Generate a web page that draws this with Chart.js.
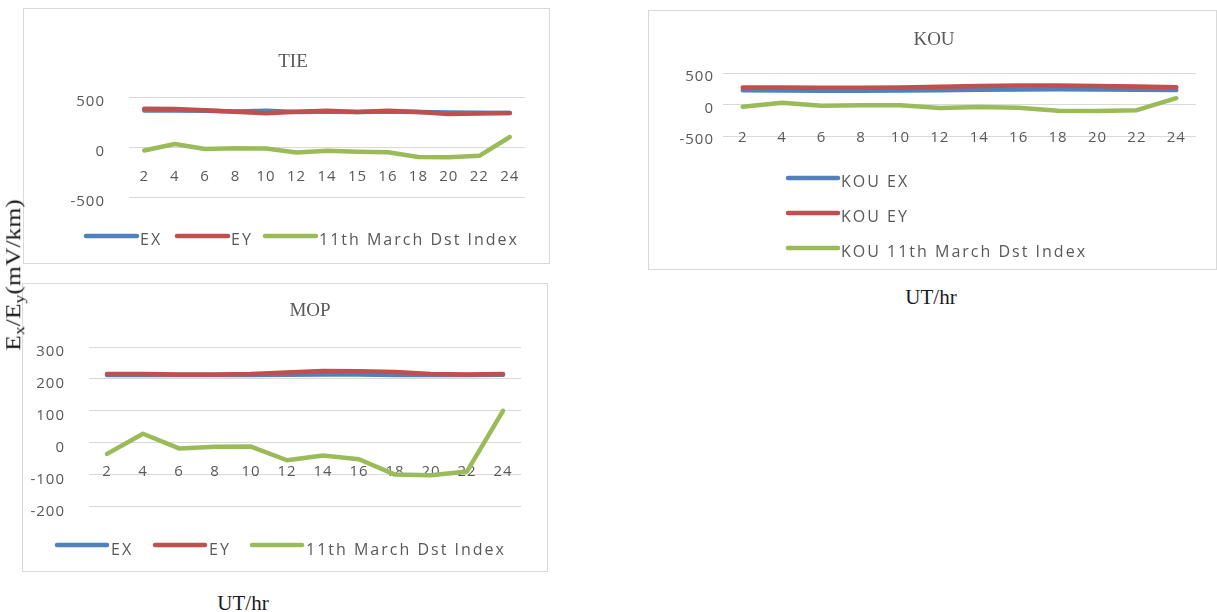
<!DOCTYPE html>
<html>
<head>
<meta charset="utf-8">
<title>Ex/Ey and Dst index, 11th March</title>
<script src="https://cdn.jsdelivr.net/npm/chart.js@4.4.1/dist/chart.umd.min.js"></script>
<style>
  html, body { margin: 0; padding: 0; background: #ffffff; }
  body { position: relative; width: 1217px; height: 612px; overflow: hidden; }
  .panel { position: absolute; box-sizing: border-box; border: 1px solid #d9d9d9; }
  .panel canvas { position: absolute; left: -1px; top: -1px; }
  .axis-title {
    position: absolute; font-family: "Liberation Serif", "Times New Roman", serif;
    color: #1a1a1a; white-space: nowrap; line-height: 1;
  }
  .axis-title sub { font-size: 0.7em; vertical-align: -0.25em; }
</style>
</head>
<body>

<div class="panel" id="panel-tie" style="left:23px; top:8px; width:527px; height:256px;">
  <canvas id="chart-tie" width="527" height="256"></canvas>
</div>
<div class="panel" id="panel-kou" style="left:648px; top:10px; width:569px; height:260px;">
  <canvas id="chart-kou" width="569" height="260"></canvas>
</div>
<div class="panel" id="panel-mop" style="left:22px; top:283px; width:526px; height:289px;">
  <canvas id="chart-mop" width="526" height="289"></canvas>
</div>

<div class="axis-title" id="y-title"
     style="left:15px; top:275px; font-size:20px; transform: translate(-50%, -50%) rotate(-90deg) scaleX(1.28);">E<sub>x</sub>/E<sub>y</sub>(mV/km)</div>
<div class="axis-title" style="left:931px; top:297px; font-size:21px; transform: translate(-50%, -50%);">UT/hr</div>
<div class="axis-title" style="left:243px; top:603px; font-size:21px; transform: translate(-50%, -50%);">UT/hr</div>

<script>
// ---- hours (UT) on the category axes ----
const tieHours = ['2', '4', '6', '8', '10', '12', '14', '15', '16', '18', '20', '22', '24'];
const hours    = ['2', '4', '6', '8', '10', '12', '14', '16', '18', '20', '22', '24'];

// ---- TIE station (mV/km) and Dst index (nT) ----
const tieEx  = [365, 365, 362, 356, 362, 350, 352, 350, 355, 350, 345, 342, 340];
const tieEy  = [382, 380, 368, 352, 338, 352, 362, 350, 362, 350, 330, 335, 340];
const tieDst = [-35, 30, -20, -12, -15, -55, -38, -47, -52, -100, -103, -88, 100];

// ---- KOU station ----
const kouEx  = [225, 222, 220, 220, 222, 228, 235, 240, 242, 240, 235, 230];
const kouEy  = [270, 268, 265, 265, 268, 280, 292, 300, 300, 295, 285, 275];
const kouDst = [-35, 28, -18, -13, -12, -55, -40, -52, -100, -102, -90, 100];

// ---- MOP station ----
const mopEx  = [212, 212, 212, 212, 212, 213, 214, 214, 212, 212, 212, 213];
const mopEy  = [215, 215, 214, 214, 215, 220, 225, 224, 222, 215, 214, 215];
const mopDst = [-35, 28, -18, -13, -12, -55, -40, -52, -100, -102, -90, 100];

// ---- value-axis ticks ----
const tieYTicks = [-500, 0, 500];
const kouYTicks = [-500, 0, 500];
const mopYTicks = [-200, -100, 0, 100, 200, 300];

const EX_COLOR  = '#4F81BD';
const EY_COLOR  = '#C0504D';
const DST_COLOR = '#9BBB59';
const TEXT_GREY = '#595959';
const GRID_GREY = '#d9d9d9';

// Draws the panel title and the line-sample legend entries.
const panelDecor = {
  id: 'panelDecor',
  beforeDraw(chart, args, opts) {
    chart.ctx.letterSpacing = opts.tickSpacing || '0px';
  },
  afterDraw(chart, args, opts) {
    const ctx = chart.ctx;
    ctx.save();
    ctx.letterSpacing = '0px';
    ctx.font = '19px "Liberation Serif", "Times New Roman", serif';
    ctx.fillStyle = TEXT_GREY;
    ctx.textAlign = 'center';
    ctx.textBaseline = 'middle';
    ctx.fillText(opts.title.text, opts.title.x, opts.title.y);

    const lg = opts.legend;
    chart.data.datasets.forEach((ds, i) => {
      const pos = lg.items[i];
      ctx.strokeStyle = ds.borderColor;
      ctx.lineWidth = ds.borderWidth;
      ctx.lineCap = 'round';
      ctx.beginPath();
      ctx.moveTo(pos.x, pos.y);
      ctx.lineTo(pos.x + lg.sample, pos.y);
      ctx.stroke();
      ctx.letterSpacing = lg.spacing;
      ctx.font = lg.font;
      ctx.fillStyle = TEXT_GREY;
      ctx.textAlign = 'left';
      ctx.textBaseline = 'middle';
      ctx.fillText(ds.label, pos.x + lg.sample + lg.gap, pos.y + lg.textDy);
    });
    ctx.restore();
  }
};

function series(label, values, color, order) {
  return {
    label, data: values, borderColor: color, backgroundColor: color,
    borderWidth: 4.5, pointRadius: 0, tension: 0, order,
    borderCapStyle: 'round', borderJoinStyle: 'round'
  };
}

function buildChart(id, spec) {
  const yt = spec.yTicks;
  return new Chart(document.getElementById(id), {
    type: 'line',
    data: {
      labels: spec.labels,
      datasets: [
        series(spec.names[0], spec.ex, EX_COLOR, 2),
        series(spec.names[1], spec.ey, EY_COLOR, 1),
        series(spec.names[2], spec.dst, DST_COLOR, 0)
      ]
    },
    options: {
      responsive: false,
      animation: false,
      devicePixelRatio: 1,
      layout: { padding: spec.padding },
      plugins: {
        legend: { display: false },
        title: { display: false },
        tooltip: { enabled: false },
        panelDecor: spec.decor
      },
      scales: {
        x: {
          type: 'category',
          position: { y: 0 },
          offset: true,
          grid: { display: false, drawTicks: false },
          border: { display: false },
          ticks: {
            autoSkip: false, maxRotation: 0, minRotation: 0,
            padding: spec.xPad, color: TEXT_GREY,
            font: { family: '"Open Sans", sans-serif', size: 15 }
          }
        },
        y: {
          min: yt[0], max: yt[yt.length - 1],
          grid: { color: GRID_GREY, lineWidth: 1, drawTicks: false },
          border: { display: false },
          ticks: {
            stepSize: yt[1] - yt[0], padding: spec.yPad, labelOffset: spec.yLabelOffset,
            color: TEXT_GREY, font: { family: '"Open Sans", sans-serif', size: 15 }
          },
          afterFit(scale) { scale.width = spec.yWidth; }
        }
      }
    },
    plugins: [panelDecor]
  });
}

const legendFont = '16px "Open Sans", sans-serif';

buildChart('chart-tie', {
  labels: tieHours, ex: tieEx, ey: tieEy, dst: tieDst, yTicks: tieYTicks,
  names: ['EX', 'EY', '11th March Dst Index'],
  padding: { left: 0, top: 89, right: 25, bottom: 67 },
  yWidth: 106, yPad: 24, yLabelOffset: 5, xPad: 21,
  decor: {
    tickSpacing: '1px',
    title: { text: 'TIE', x: 270, y: 54 },
    legend: { font: legendFont, spacing: '2px', sample: 51, gap: 3, textDy: 4,
              items: [{ x: 63, y: 228 }, { x: 154, y: 228 }, { x: 242, y: 228 }] }
  }
});

buildChart('chart-kou', {
  labels: hours, ex: kouEx, ey: kouEy, dst: kouDst, yTicks: kouYTicks,
  names: ['KOU EX', 'KOU EY', 'KOU 11th March Dst Index'],
  padding: { left: 0, top: 63, right: 21, bottom: 134 },
  yWidth: 75, yPad: 9, yLabelOffset: 4, xPad: 24,
  decor: {
    tickSpacing: '1px',
    title: { text: 'KOU', x: 286, y: 30 },
    legend: { font: legendFont, spacing: '2px', sample: 50, gap: 3, textDy: 4,
              items: [{ x: 140, y: 168 }, { x: 140, y: 203 }, { x: 140, y: 238 }] }
  }
});

buildChart('chart-mop', {
  labels: hours, ex: mopEx, ey: mopEy, dst: mopDst, yTicks: mopYTicks,
  names: ['EX', 'EY', '11th March Dst Index'],
  padding: { left: 0, top: 64, right: 27, bottom: 65.5 },
  yWidth: 67, yPad: 24, yLabelOffset: 5, xPad: 20,
  decor: {
    tickSpacing: '1px',
    title: { text: 'MOP', x: 288, y: 28 },
    legend: { font: legendFont, spacing: '2px', sample: 50, gap: 4, textDy: 5,
              items: [{ x: 35, y: 262 }, { x: 133, y: 262 }, { x: 230, y: 262 }] }
  }
});
</script>
</body>
</html>
